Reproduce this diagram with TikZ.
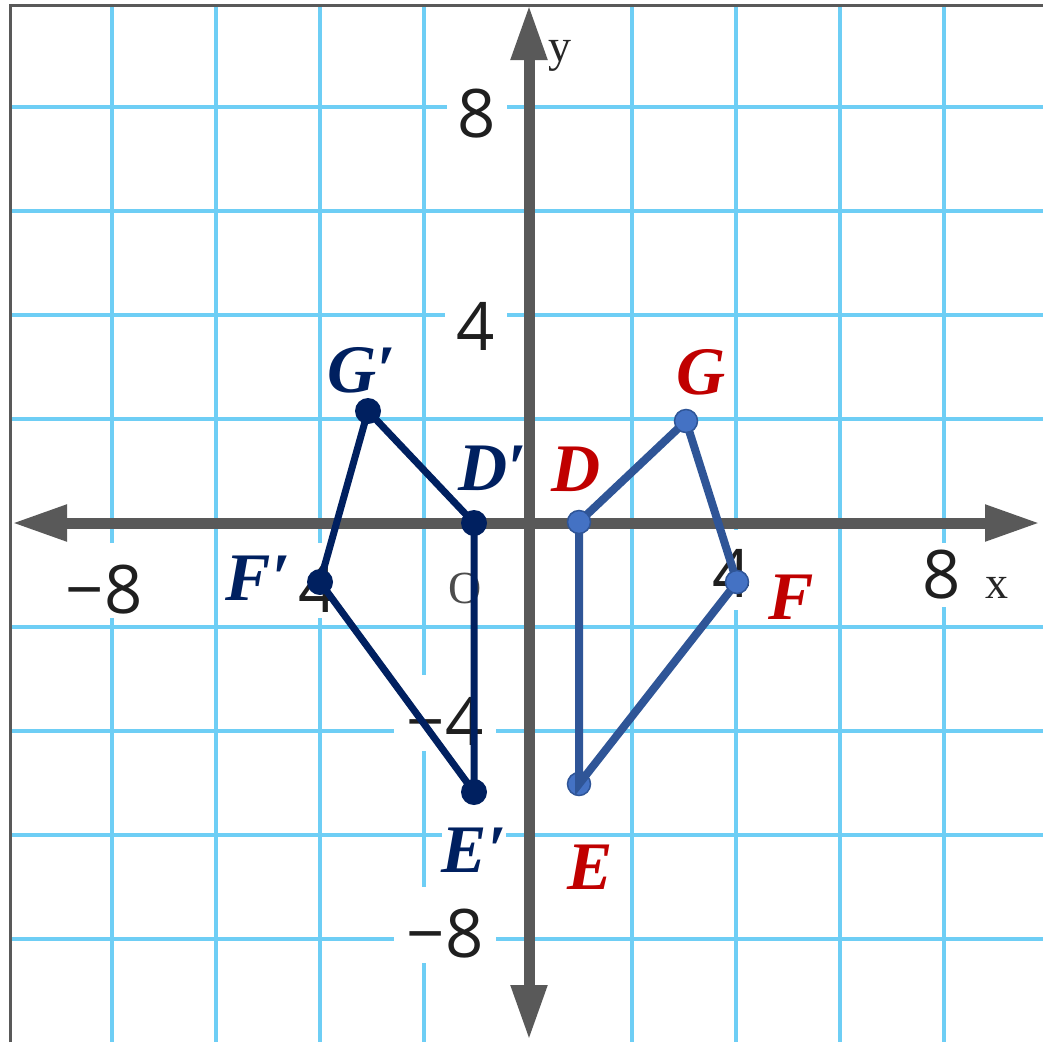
\documentclass[tikz,border=0pt]{standalone}
\usepackage{fontspec}
\setmainfont{Liberation Serif}
\newfontfamily\tickfont{Open Sans}
\usetikzlibrary{arrows.meta}
\definecolor{gridblue}{RGB}{110,206,245}
\definecolor{axisgray}{RGB}{89,89,89}
\definecolor{navy}{RGB}{0,32,96}
\definecolor{bline}{RGB}{47,85,151}
\definecolor{bfill}{RGB}{68,114,196}
\definecolor{lred}{RGB}{192,0,0}
\begin{document}
\begin{tikzpicture}[x=1pt,y=-1pt,
  gridline/.style={draw=gridblue,line width=4pt},
  frameline/.style={draw=axisgray,line width=3pt},
  axisline/.style={draw=axisgray,line width=11pt,{Triangle[length=55pt,width=34pt]}-{Triangle[length=55pt,width=34pt]}},
  ticklab/.style={font=\tickfont\fontsize{67}{67}\selectfont,text=black!88,fill=white,inner ysep=0pt,anchor=base},
  axlab/.style={font=\fontsize{46}{46}\selectfont,text=black!85,inner sep=0pt,anchor=base},
  ptlab/.style={font=\bfseries\itshape\fontsize{68}{68}\selectfont,fill=white,inner sep=0pt,anchor=base},
  navydot/.style={circle,fill=navy,inner sep=0pt,minimum size=26pt},
  bluedot/.style={circle,fill=bfill,draw=bline,line width=1.5pt,inner sep=0pt,minimum size=23pt},
  navypoly/.style={draw=navy,line width=7pt,line join=round},
  bluepoly/.style={draw=bline,line width=8pt,line join=miter}
]
\useasboundingbox (0,0) rectangle (1043,1042);
\fill[white] (0,0) rectangle (1043,1042);
% grid
\foreach \x in {112,216,320,424,632,736,840,944} \draw[gridline] (\x,5) -- (\x,1042);
\foreach \y in {107,211,315,419,627,731,835,939} \draw[gridline] (10,\y) -- (1043,\y);
% frame
\draw[frameline] (10,1042) -- (10,5) -- (1043,5);
% tick labels
\node[ticklab,inner xsep=11pt,text height=70pt,text depth=6pt] (y8) at (477,137) {8};
\node[ticklab,inner xsep=12pt,text height=70pt,text depth=6pt] (y4) at (476,350) {4};
\node[ticklab,inner xsep=13pt,text height=70pt,text depth=6pt] (ym4) at (445,745) {−4};
\node[ticklab,inner xsep=13pt,text height=70pt,text depth=6pt] (ym8) at (445,957) {−8};
\node[ticklab,inner xsep=8pt,text height=70pt,text depth=5pt] (xm8) at (104,613) {−8};
\node[ticklab,inner xsep=6pt,text height=69pt,text depth=6pt] (xm4) at (318,612) {4};
\node[ticklab,inner xsep=6pt,text height=67pt,text depth=13pt] (x4) at (732,597) {4};
\node[ticklab,inner xsep=6pt,text height=55pt,text depth=9pt] (x8) at (942,598) {8};
\node[axlab,text=black!70] (orig) at (465,603) {O};
\node[axlab] (xlab) at (997,598) {x};
\node[axlab] (ylab) at (560,61) {y};
% point labels
\node[ptlab,text=navy] (lGp) at (362,392) {G′};
\node[ptlab,text=navy] (lDp) at (493,490) {D′};
\node[ptlab,text=navy] (lFp) at (258,600) {F′};
\node[ptlab,text=navy] (lEp) at (474,872) {E′};
\node[ptlab,text=lred] (lG) at (701,394) {G};
\node[ptlab,text=lred] (lD) at (576,491) {D};
\node[ptlab,text=lred] (lF) at (791,619) {F};
\node[ptlab,text=lred] (lE) at (590,889) {E};
% axes
\coordinate (xl) at (12,523);
\coordinate (xr) at (1040,523);
\coordinate (yt) at (529,5);
\coordinate (yb) at (529,1040);
\draw[axisline] (xl) -- (xr);
\draw[axisline] (yb) -- (yt);
% vertices
\coordinate (D) at (579,522);
\coordinate (G) at (686,421);
\coordinate (F) at (737,582);
\coordinate (E) at (579,784);
\coordinate (Dp) at (474,523);
\coordinate (Gp) at (368,411);
\coordinate (Fp) at (320,582);
\coordinate (Ep) at (474,792);
% blue figure
\node[bluedot] (Edot) at (E) {};
\draw[bluepoly] (D) -- (G) -- (F) -- (E) -- cycle;
\node[bluedot] (Ddot) at (D) {};
\node[bluedot] (Gdot) at (G) {};
\node[bluedot] (Fdot) at (F) {};
% navy figure
\draw[navypoly] (Dp) -- (Gp) -- (Fp) -- (Ep) -- cycle;
\node[navydot] (Dpdot) at (Dp) {};
\node[navydot] (Gpdot) at (Gp) {};
\node[navydot] (Fpdot) at (Fp) {};
\node[navydot] (Epdot) at (Ep) {};
\end{tikzpicture}
\end{document}
